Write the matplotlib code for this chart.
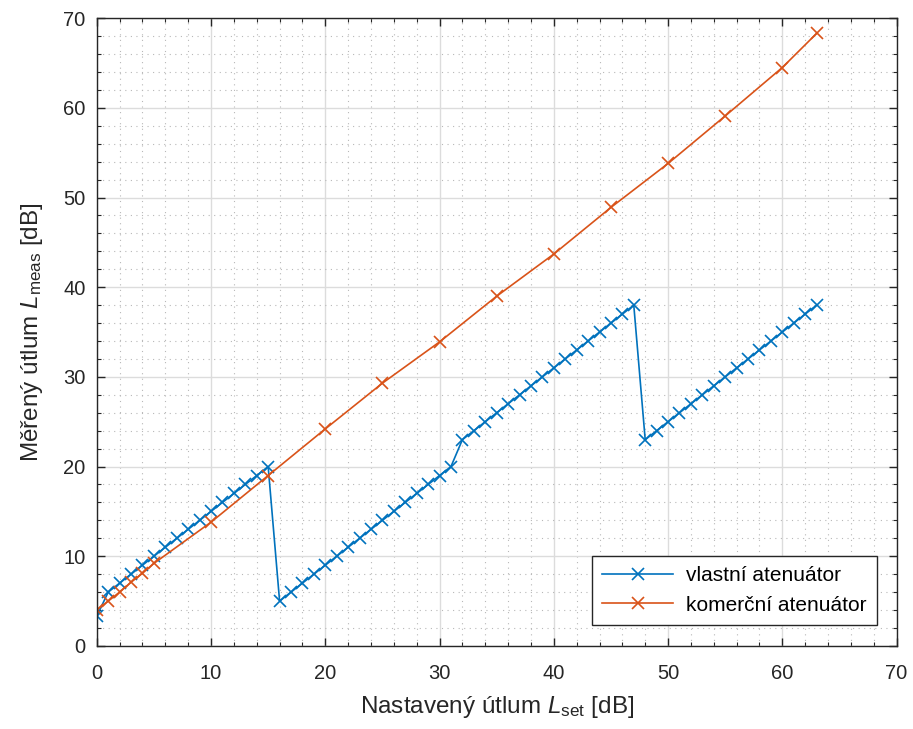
import matplotlib
matplotlib.use("Agg")
import matplotlib.pyplot as plt
from matplotlib.ticker import MultipleLocator

plt.rcParams['font.family'] = ['Liberation Sans', 'DejaVu Sans']
plt.rcParams['mathtext.fontset'] = 'custom'
plt.rcParams['mathtext.it'] = 'Liberation Sans:italic'
plt.rcParams['mathtext.rm'] = 'Liberation Sans'

# vlastní atenuátor: measured vs. set attenuation, 1 dB steps
own_set = list(range(0, 64))
own_meas = ([3.3] + [x + 5 for x in range(1, 16)]
            + [x - 11 for x in range(16, 32)]
            + [x - 9 for x in range(32, 48)]
            + [x - 25 for x in range(48, 64)])

# komerční atenuátor
com_set = [0, 1, 2, 3, 4, 5, 10, 15, 20, 25, 30, 35, 40, 45, 50, 55, 60, 63]
com_meas = [4.0, 5.0, 6.0, 7.1, 8.1, 9.2, 13.8, 19.0, 24.2, 29.3, 33.9,
            39.0, 43.7, 48.9, 53.8, 59.1, 64.5, 68.3]

BLUE = "#0072BD"
ORANGE = "#D95319"
AX_COLOR = "#262626"

fig = plt.figure(figsize=(9.13, 7.29), dpi=100)
ax = fig.add_axes([0.106, 0.114, 0.876, 0.861])

ax.plot(own_set, own_meas, color=BLUE, marker="x", markersize=9,
        linewidth=1.2, markeredgewidth=1.2, label="vlastní atenuátor")
ax.plot(com_set, com_meas, color=ORANGE, marker="x", markersize=9,
        linewidth=1.2, markeredgewidth=1.2, label="komerční atenuátor")

ax.set_xlim(0, 70)
ax.set_ylim(0, 70)
ax.xaxis.set_major_locator(MultipleLocator(10))
ax.yaxis.set_major_locator(MultipleLocator(10))
ax.xaxis.set_minor_locator(MultipleLocator(2))
ax.yaxis.set_minor_locator(MultipleLocator(2))

ax.grid(which="major", color="#dcdcdc", linewidth=1.0, linestyle="-")
ax.grid(which="minor", color="#b8b8b8", linewidth=0.8, linestyle=(0, (1, 4)))
ax.set_axisbelow(True)

ax.tick_params(which="both", direction="in", top=True, right=True,
               colors=AX_COLOR, labelsize=14.5)
ax.tick_params(which="major", length=6, width=1.0)
ax.tick_params(axis="x", which="major", pad=13)
ax.tick_params(axis="y", which="major", pad=8)
ax.tick_params(which="minor", length=3, width=0.8)
for sp in ax.spines.values():
    sp.set_color(AX_COLOR)
    sp.set_linewidth(1.0)

ax.set_xlabel(r"Nastavený útlum $L_{\mathrm{set}}$ [dB]", fontsize=17.5,
              color=AX_COLOR, labelpad=8)
ax.set_ylabel(r"Měřený útlum $L_{\mathrm{meas}}$ [dB]", fontsize=17.5,
              color=AX_COLOR, labelpad=13)

leg = ax.legend(loc="lower right", fontsize=15, frameon=True, fancybox=False,
                edgecolor=AX_COLOR, framealpha=1.0, borderpad=0.5,
                handlelength=3.4, handletextpad=0.6, borderaxespad=0,
                bbox_to_anchor=(0.975, 0.033))
leg.get_frame().set_linewidth(1.0)

fig.savefig("out.png", dpi=100)
